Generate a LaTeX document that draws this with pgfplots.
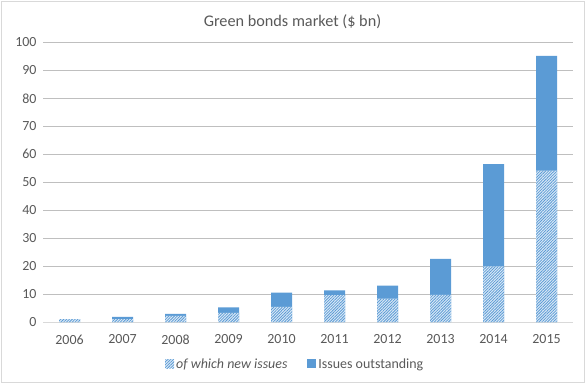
\documentclass[border=0pt]{standalone}
\usepackage{pgfplots}
\pgfplotsset{compat=1.18}
\usepackage{fontspec}
\setmainfont{Carlito}
\usetikzlibrary{patterns.meta}
\definecolor{barblue}{RGB}{91,155,213}
\definecolor{lightblue}{RGB}{222,235,247}
\definecolor{txt}{RGB}{89,89,89}
\definecolor{grid}{RGB}{217,217,217}
\begin{document}
\begin{tikzpicture}[x=1bp,y=1bp]
\useasboundingbox (0,0) rectangle (585,383);
\draw[grid, line width=0.8bp] (1,1) rectangle (584,382);
\node[text=txt, font=\fontsize{16.3}{18}\selectfont] at (292.5,361) {Green bonds market (\$ bn)};
\begin{axis}[
  at={(43bp,61bp)}, anchor=south west,
  scale only axis, width=530bp, height=279.5bp,
  xmin=-0.5, xmax=9.5, ymin=0, ymax=100,
  ybar, bar width=21bp, bar shift=0pt,
  xtick={0,...,9},
  xticklabels={2006,2007,2008,2009,2010,2011,2012,2013,2014,2015},
  ytick={0,10,...,100},
  separate axis lines,
  axis x line*=bottom, axis y line*=left,
  x axis line style={grid, line width=0.8bp, -},
  y axis line style={draw=none},
  xmajorgrids=false, ymajorgrids=true,
  grid style={grid, line width=0.6bp},
  xtick style={draw=none}, ytick style={draw=none},
  tick label style={text=txt, font=\fontsize{14}{16}\selectfont},
  /pgf/number format/assume math mode=true,
  xticklabel style={yshift=-5bp},
  yticklabel style={xshift=-3bp},
  legend columns=2,
  legend style={at={(0.476,-0.15)}, anchor=center, draw=none, fill=none,
    font=\fontsize{14}{16}\selectfont, text=txt,
    /tikz/every even column/.append style={column sep=18bp}},
  legend image code/.code={\fill[#1] (0bp,-4.5bp) rectangle (9bp,4.5bp);},
]
\addlegendimage{draw=none, fill=lightblue, postaction={pattern={Lines[angle=45,distance=2bp,line width=0.8bp]}, pattern color=barblue}}
\addlegendentry{\itshape of which new issues}
\addplot[draw=none, fill=barblue] coordinates {
  (0,1.0) (1,1.8) (2,2.9) (3,5.2) (4,10.5) (5,11.3) (6,13.0) (7,22.6) (8,56.5) (9,95.2)};
\addlegendentry{Issues outstanding}
\addplot[draw=none, fill=lightblue, forget plot,
  postaction={pattern={Lines[angle=45,distance=2bp,line width=0.8bp]}, pattern color=barblue}] coordinates {
  (0,1.0) (1,1.0) (2,2.2) (3,3.3) (4,5.4) (5,9.6) (6,8.4) (7,9.7) (8,19.9) (9,54.2)};
\end{axis}
\end{tikzpicture}
\end{document}
